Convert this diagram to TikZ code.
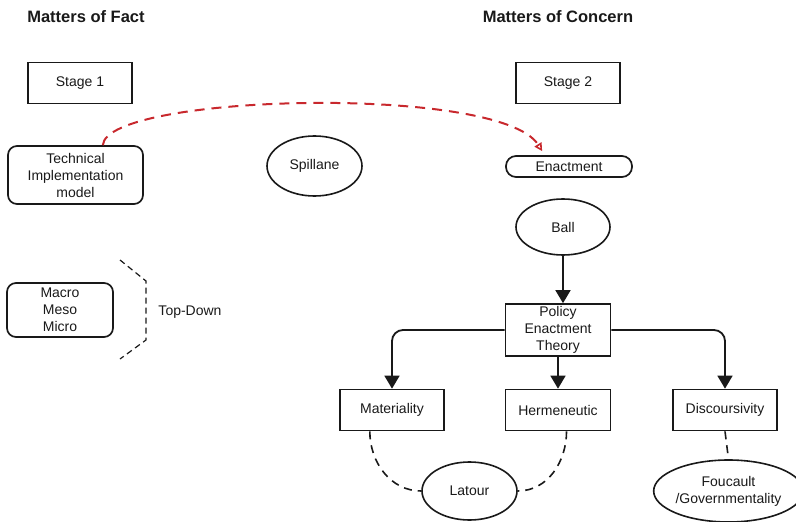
\documentclass[tikz,border=0pt]{standalone}
\usepackage{fontspec}
\setmainfont{Liberation Sans}
\usetikzlibrary{shapes.geometric,arrows.meta,calc}
\definecolor{linkred}{RGB}{200,40,45}
\definecolor{ink}{RGB}{25,25,25}
\tikzset{
  txt/.style={font=\fontsize{14}{17}\selectfont, text=ink, align=center},
  title/.style={font=\fontsize{16.5}{19}\selectfont\bfseries, text=ink},
  box/.style={txt, draw=ink, line width=1.7pt, inner sep=0pt},
  rbox/.style={box, rounded corners=9pt},
  oval/.style={txt, draw=ink, line width=1.6pt, ellipse, inner sep=0pt},
  flow/.style={draw=ink, line width=1.8pt, rounded corners=11pt,
    -{Triangle[length=13pt,width=15pt]}},
  dashlink/.style={draw=ink, line width=1.6pt, dash pattern=on 8pt off 6pt},
  redlink/.style={draw=linkred, line width=2pt, dash pattern=on 10pt off 7pt,
    -{Triangle[open,length=8pt,width=8pt,line width=1.6pt]}},
}
\begin{document}
\begin{tikzpicture}[x=1pt,y=-1pt]
\useasboundingbox (0,0) rectangle (796,522);

% column headings
\node[title] (fact) at (86,17) {Matters of Fact};
\node[title] (concern) at (558,17) {Matters of Concern};

% stages
\node[box, minimum width=104pt, minimum height=41pt] (s1) at (80,83) {Stage 1};
\node[box, minimum width=104pt, minimum height=41pt] (s2) at (568,83) {Stage 2};

% left column
\node[rbox, minimum width=135pt, minimum height=58pt] (tim) at (75.5,175) {Technical\\Implementation\\model};
\node[rbox, minimum width=106pt, minimum height=54pt] (mmm) at (60,310) {Macro\\Meso\\Micro};
\node[txt] (td) at (190,312) {Top-Down};

% top-down bracket
\coordinate (b1) at (120,260);
\coordinate (b2) at (146,281);
\coordinate (b3) at (146,340);
\coordinate (b4) at (120,359);
\draw[dashlink, line width=1.2pt, dash pattern=on 6pt off 4pt] (b1) -- (b2) -- (b3) -- (b4);

% middle
\node[oval, minimum width=95pt, minimum height=60pt] (spl) at (314.5,166) {Spillane};

% right column
\node[rbox, rounded corners=10pt, minimum width=126pt, minimum height=21pt] (ena) at (569,166.5) {Enactment};
\node[oval, minimum width=94pt, minimum height=56pt] (ball) at (563,227) {Ball};
\node[box, minimum width=105pt, minimum height=52pt] (pet) at (558,330) {Policy\\Enactment\\Theory};
\node[box, minimum width=104pt, minimum height=41pt] (mat) at (392,410) {Materiality};
\node[box, minimum width=105pt, minimum height=41pt] (her) at (558,410) {Hermeneutic};
\node[box, minimum width=104pt, minimum height=41pt] (dis) at (725,410) {Discoursivity};
\node[oval, minimum width=95pt, minimum height=58pt] (lat) at (469.5,491) {Latour};
\node[oval, minimum width=133pt, minimum height=62pt] (fou) at (728.5,491) {Foucault\\/Governmentality};

% stage shift
\draw[redlink] ($(tim.north west)!0.7!(tim.north east)$)
  .. controls (106,94) and (500,84) .. ($(ena.north west)!0.29!(ena.north east)+(0,-4)$);

% enactment theory tree
\draw[flow] (ball.south) -- (ball.south |- pet.north);
\draw[flow] (pet.west) -| (mat.north);
\draw[flow] (pet.south) -- (her.north);
\draw[flow] (pet.east) -| (dis.north);

% theorists
\draw[dashlink] ($(mat.south west)!0.29!(mat.south east)$) to[out=-90,in=180] (lat.west);
\draw[dashlink] ($(her.south west)!0.58!(her.south east)$) to[out=-90,in=0] (lat.east);
\draw[dashlink] (dis.south) -- (fou.north);
\end{tikzpicture}
\end{document}
